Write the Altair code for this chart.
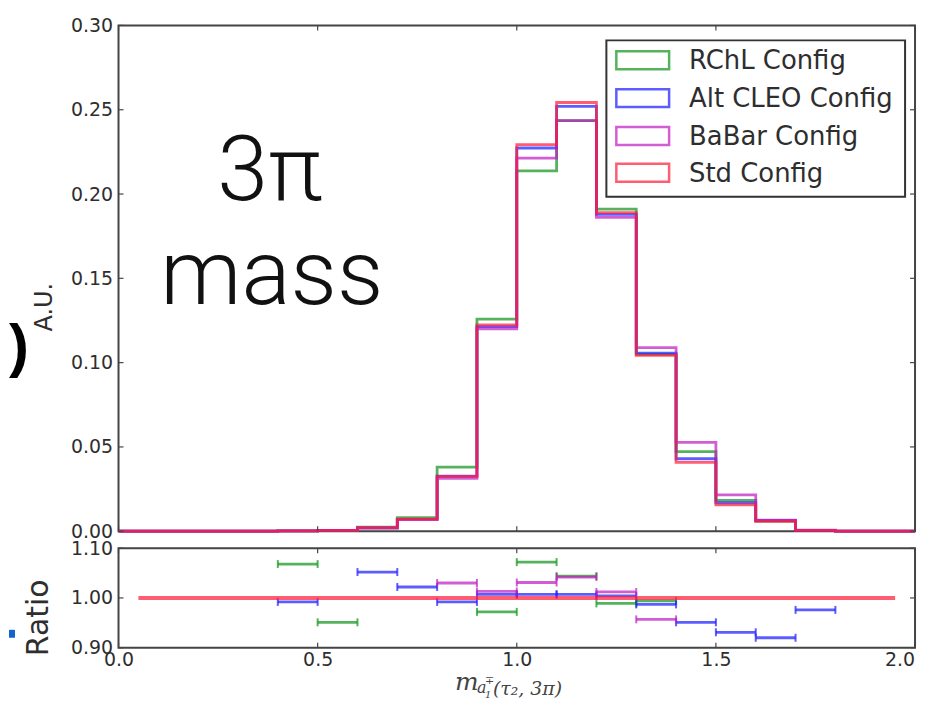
import altair as alt
import pandas as pd

# ---------------- data ----------------
edges = [0.0, 0.1, 0.2, 0.3, 0.4, 0.5, 0.6, 0.7, 0.8, 0.9, 1.0,
         1.1, 1.2, 1.3, 1.4, 1.5, 1.6, 1.7, 1.8, 1.9, 2.0]
series = ["RChL Config", "Alt CLEO Config", "BaBar Config", "Std Config"]
colors = ["#14961e", "#1e1eff", "#c21ec2", "#ff1e3c"]

rchl = [0, 0, 0, 0, 0.0002, 0.0005, 0.0024, 0.0080, 0.0380, 0.1258, 0.2137,
        0.2436, 0.1910, 0.1049, 0.0472, 0.0183, 0.0060, 0.0005, 0, 0]
cleo = [0, 0, 0, 0, 0.0002, 0.0005, 0.0019, 0.0070, 0.0327, 0.1213, 0.2273,
        0.2520, 0.1880, 0.1057, 0.0430, 0.0169, 0.0064, 0.0005, 0, 0]
babar = [0, 0, 0, 0, 0.0002, 0.0005, 0.0021, 0.0070, 0.0314, 0.1201, 0.2213,
         0.2436, 0.1862, 0.1089, 0.0527, 0.0216, 0.0066, 0.0006, 0, 0]
std = [0, 0, 0, 0, 0.0002, 0.0005, 0.0020, 0.0072, 0.0325, 0.1224, 0.2293,
       0.2543, 0.1890, 0.1043, 0.0409, 0.0157, 0.0059, 0.0005, 0, 0]

# ratio panel (bin low edge, ratio)
rchl_ratio_lo = [0.4, 0.5, 0.9, 1.0, 1.1, 1.2, 1.3]
rchl_ratio = [1.068, 0.951, 0.972, 1.072, 1.044, 0.989, 0.994]
cleo_ratio_lo = [0.4, 0.6, 0.7, 0.8, 0.9, 1.0, 1.1, 1.2, 1.3, 1.4, 1.5, 1.6, 1.7]
cleo_ratio = [0.992, 1.052, 1.022, 0.992, 1.007, 1.007, 1.007, 1.004, 0.987,
              0.951, 0.931, 0.920, 0.976]
babar_ratio_lo = [0.8, 0.9, 1.0, 1.1, 1.2, 1.3]
babar_ratio = [1.030, 1.013, 1.031, 1.042, 1.012, 0.957]
std_ratio_centers = [0.05, 0.15, 0.25, 0.35, 0.45, 0.55, 0.65, 0.75, 0.85, 0.95,
                     1.05, 1.15, 1.25, 1.35, 1.45, 1.55, 1.65, 1.75, 1.85, 1.95]
std_ratio = [1.0] * 20

x_ticks = [0.0, 0.5, 1.0, 1.5, 2.0]
x_last_label = "2.0"
y_ticks_top = [0.0, 0.05, 0.10, 0.15, 0.20, 0.25, 0.30]
y_ticks_bot = [0.9, 1.0, 1.1]

W, H1, H2 = 800, 508, 100
LX = W - 310   # legend left edge (legend is anchored to the right frame)
LABEL_FONT = "DejaVu Sans"
LABEL_FS = 19
TXT = "#2e2e2e"

xscale = alt.Scale(domain=[0, 2], nice=False, zero=False)
yscale_top = alt.Scale(domain=[0, 0.3], nice=False)
yscale_bot = alt.Scale(domain=[0.9, 1.1], nice=False, zero=False)

x_top = lambda f: alt.X(f, type="quantitative", scale=xscale, axis=None)
y_top = lambda f: alt.Y(f, type="quantitative", scale=yscale_top,
                        axis=alt.Axis(values=y_ticks_top, format=".2f", ticks=False,
                                      domain=False, grid=False, labelPadding=6,
                                      labelOverlap=False, title=None))
x_bot = lambda f: alt.X(f, type="quantitative", scale=xscale,
                        axis=alt.Axis(values=x_ticks[:-1], format=".1f", ticks=False,
                                      domain=False, grid=False, labelPadding=3,
                                      labelFlush=False, labelOverlap=False, title=None))
y_bot = lambda f: alt.Y(f, type="quantitative", scale=yscale_bot,
                        axis=alt.Axis(values=y_ticks_bot, format=".2f", ticks=False,
                                      domain=False, grid=False, labelPadding=6,
                                      labelOverlap=False, title=None))

one = pd.DataFrame({"k": [0]})

# ---------------- top panel ----------------
top_layers = []
for name, vals, col in zip(series, [rchl, cleo, babar, std], colors):
    df = pd.DataFrame({"x": edges, "y": list(vals) + [vals[-1]]})
    top_layers.append(
        alt.Chart(df).mark_line(interpolate="step-after", strokeWidth=2.8,
                                opacity=0.72, color=col)
        .encode(x=x_top("x"), y=y_top("y"))
    )

# inward ticks
xt = pd.DataFrame({"x": x_ticks})
yt = pd.DataFrame({"y": y_ticks_top})
tick_style = dict(color="#444444", strokeWidth=1.2)
top_layers += [
    alt.Chart(xt).mark_rule(**tick_style).encode(x=x_top("x"), y=alt.value(H1), y2=alt.value(H1 - 5)),
    alt.Chart(xt).mark_rule(**tick_style).encode(x=x_top("x"), y=alt.value(0), y2=alt.value(5)),
    alt.Chart(yt).mark_rule(**tick_style).encode(y=y_top("y"), x=alt.value(0), x2=alt.value(5)),
    alt.Chart(yt).mark_rule(**tick_style).encode(y=y_top("y"), x=alt.value(W), x2=alt.value(W - 5)),
]

# legend (drawn manually)
top_layers.append(
    alt.Chart(one).mark_rect(fill="white", stroke="#333333", strokeWidth=2)
    .encode(x=alt.value(LX), x2=alt.value(LX + 300), y=alt.value(15), y2=alt.value(172))
)
row_y = [35, 73, 111, 148]
for name, col, ry in zip(series, colors, row_y):
    top_layers.append(
        alt.Chart(one).mark_rect(fill="white", fillOpacity=0, stroke=col, strokeWidth=2.5,
                                 strokeOpacity=0.72)
        .encode(x=alt.value(LX + 10), x2=alt.value(LX + 63), y=alt.value(ry - 9), y2=alt.value(ry + 9))
    )
    top_layers.append(
        alt.Chart(pd.DataFrame({"t": [name]})).mark_text(
            font=LABEL_FONT, fontSize=26, color=TXT, align="left", baseline="middle")
        .encode(text="t:N", x=alt.value(LX + 83), y=alt.value(ry + 1))
    )

# big annotation
for t, xx, yy in [("3π", 152, 175), ("mass", 154, 280)]:
    top_layers.append(
        alt.Chart(pd.DataFrame({"t": [t]})).mark_text(
            font="Roboto", fontWeight=300, fontSize=92, color="#111111",
            align="center", baseline="alphabetic")
        .encode(text="t:N", x=alt.value(xx), y=alt.value(yy))
    )

# y title
top_layers.append(
    alt.Chart(pd.DataFrame({"t": ["A.U."]})).mark_text(
        font=LABEL_FONT, fontSize=24, color=TXT, angle=270, align="center", baseline="middle")
    .encode(text="t:N", x=alt.value(-74), y=alt.value(283))
)
# cropped glyph at the left edge
top_layers.append(
    alt.Chart(pd.DataFrame({"t": [")"]})).mark_text(
        font="Liberation Sans", fontWeight="bold", fontSize=60, color="#000000",
        align="left", baseline="middle")
    .encode(text="t:N", x=alt.value(-110), y=alt.value(324))
)

top = alt.layer(*top_layers).properties(width=W, height=H1)

# ---------------- bottom panel ----------------
bot_layers = []
for lo_list, r_list, col in [(rchl_ratio_lo, rchl_ratio, colors[0]),
                             (cleo_ratio_lo, cleo_ratio, colors[1]),
                             (babar_ratio_lo, babar_ratio, colors[2])]:
    hi_list = [round(v + 0.1, 2) for v in lo_list]
    df = pd.DataFrame({"x": lo_list, "x2": hi_list, "y": r_list})
    caps = pd.DataFrame({"x": lo_list + hi_list, "y": r_list + r_list})
    bot_layers.append(
        alt.Chart(df).mark_rule(strokeWidth=2.8, opacity=0.72, color=col)
        .encode(x=x_bot("x"), x2="x2:Q", y=y_bot("y"))
    )
    bot_layers.append(
        alt.Chart(caps).mark_tick(orient="vertical", size=8, thickness=2, opacity=0.72, color=col)
        .encode(x=x_bot("x"), y=y_bot("y"))
    )

bot_layers.append(
    alt.Chart(pd.DataFrame({"x": std_ratio_centers, "y": std_ratio}))
    .mark_line(strokeWidth=4, opacity=0.72, color=colors[3])
    .encode(x=x_bot("x"), y=y_bot("y"))
)

ytb = pd.DataFrame({"y": y_ticks_bot})
bot_layers += [
    alt.Chart(xt).mark_rule(**tick_style).encode(x=x_bot("x"), y=alt.value(H2), y2=alt.value(H2 - 5)),
    alt.Chart(xt).mark_rule(**tick_style).encode(x=x_bot("x"), y=alt.value(0), y2=alt.value(5)),
    alt.Chart(ytb).mark_rule(**tick_style).encode(y=y_bot("y"), x=alt.value(0), x2=alt.value(5)),
    alt.Chart(ytb).mark_rule(**tick_style).encode(y=y_bot("y"), x=alt.value(W), x2=alt.value(W - 5)),
]

# last x tick label, right-aligned so it stays inside the page
bot_layers.append(
    alt.Chart(pd.DataFrame({"x": [x_ticks[-1]], "t": [x_last_label]})).mark_text(
        font=LABEL_FONT, fontSize=LABEL_FS, color=TXT, align="right", baseline="top")
    .encode(x=x_bot("x"), text="t:N", y=alt.value(H2 + 3))
)

bot_layers.append(
    alt.Chart(pd.DataFrame({"t": ["Ratio"]})).mark_text(
        font=LABEL_FONT, fontSize=30, color=TXT, angle=270, align="center", baseline="middle")
    .encode(text="t:N", x=alt.value(-80), y=alt.value(70))
)
bot_layers.append(
    alt.Chart(one).mark_rect(color="#1464cc")
    .encode(x=alt.value(-110), x2=alt.value(-104), y=alt.value(82), y2=alt.value(90))
)

# x title  m_{a_1^∓}(τ_2, 3π)
for t, xx, yy, fs in [("m", 338, 142, 25), ("a", 360, 145, 16), ("1", 368, 150, 10),
                      ("∓", 368, 136, 11), ("(τ₂,  3π)", 376, 147, 19)]:
    bot_layers.append(
        alt.Chart(pd.DataFrame({"t": [t]})).mark_text(
            font="DejaVu Serif", fontStyle="italic", fontSize=fs, color="#444444",
            align="left", baseline="alphabetic")
        .encode(text="t:N", x=alt.value(xx), y=alt.value(yy))
    )

bottom = alt.layer(*bot_layers).properties(width=W, height=H2)

chart = (
    alt.vconcat(top, bottom, spacing=17, bounds="flush")
    .properties(padding={"left": 0, "top": 6, "right": 0, "bottom": 0})
    .configure_view(stroke="#444444", strokeWidth=2)
    .configure_axis(labelFont=LABEL_FONT, labelFontSize=LABEL_FS, labelColor=TXT)
)

chart.save("out.html", embed_options={"renderer": "svg", "actions": False})
